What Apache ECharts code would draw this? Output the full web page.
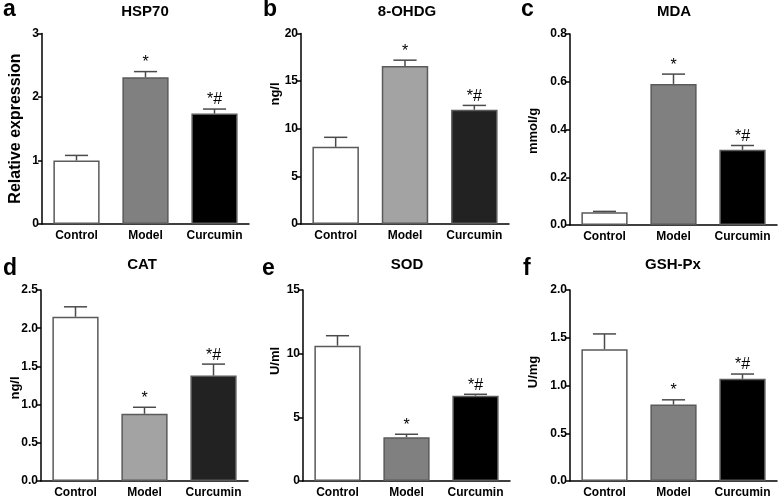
<!DOCTYPE html>
<html>
<head>
<meta charset="utf-8">
<script src="https://cdn.jsdelivr.net/npm/echarts@6/dist/echarts.min.js"></script>
<style>html,body{margin:0;padding:0;background:#fff}#c{width:778px;height:499px}</style>
</head>
<body>
<div id="c"></div>
<script>
var categories = ['Control', 'Model', 'Curcumin'];
var marks = ['', '*', '*#'];

var hsp70 = [1.00, 2.31, 1.74];
var hsp70Err = [0.08, 0.09, 0.07];
var ohdg = [8.1, 16.6, 12.0];
var ohdgErr = [1.0, 0.6, 0.45];
var mda = [0.053, 0.591, 0.315];
var mdaErr = [0.004, 0.041, 0.018];
var cat = [2.15, 0.88, 1.38];
var catErr = [0.13, 0.085, 0.15];
var sod = [10.63, 3.43, 6.70];
var sodErr = [0.78, 0.24, 0.11];
var gsh = [1.38, 0.80, 1.07];
var gshErr = [0.16, 0.05, 0.05];

var titles = ['HSP70', '8-OHDG', 'MDA', 'CAT', 'SOD', 'GSH-Px'];
var letters = ['a', 'b', 'c', 'd', 'e', 'f'];
var yNames = ['Relative expression', 'ng/l', 'mmol/g', 'ng/l', 'U/ml', 'U/mg'];
var yMax = [3, 20, 0.8, 2.5, 15, 2.0];
var yInterval = [1, 5, 0.2, 0.5, 5, 0.5];
var yDecimals = [0, 0, 1, 1, 0, 1];

var values = [hsp70, ohdg, mda, cat, sod, gsh];
var errors = [hsp70Err, ohdgErr, mdaErr, catErr, sodErr, gshErr];
var fills = [
  ['#ffffff', '#808080', '#000000'],
  ['#ffffff', '#a3a3a3', '#222222'],
  ['#ffffff', '#808080', '#000000'],
  ['#ffffff', '#a3a3a3', '#222222'],
  ['#ffffff', '#808080', '#000000'],
  ['#ffffff', '#808080', '#000000']
];

var grids = [
  {left: 42, top: 33.5, width: 207, height: 190.5},
  {left: 301, top: 33.5, width: 208, height: 190.5},
  {left: 570, top: 34, width: 207, height: 191},
  {left: 41, top: 290, width: 207, height: 191},
  {left: 303, top: 290, width: 207, height: 191},
  {left: 570, top: 290, width: 207, height: 191}
];
var titlePos = [[145, 11.5], [407, 11.5], [674, 11.5], [142, 264.7], [407, 264.7], [673, 264.7]];
var letterPos = [[3, 9.5], [263, 9.5], [521, 9.5], [3, 269], [262, 269], [523, 269]];
var yNamePos = [[16, 128.5], [275, 94], [533, 131], [15, 388], [275, 361], [533, 372]];
var yNameSize = [16, 13, 13, 13, 13, 13];

var FONT = '"Liberation Sans", Arial, Helvetica, sans-serif';

var xAxes = [], yAxes = [], series = [], graphics = [];
for (var k = 0; k < 6; k++) {
  (function (k) {
    xAxes.push({
      type: 'category', gridIndex: k, data: categories,
      axisLine: {lineStyle: {color: '#000', width: 1.5}},
      axisTick: {alignWithLabel: true, length: 5, lineStyle: {color: '#000', width: 1.5}},
      axisLabel: {interval: 0, color: '#000', fontWeight: 'bold', fontSize: 12, fontFamily: FONT, margin: 6}
    });
    yAxes.push({
      type: 'value', gridIndex: k, min: 0, max: yMax[k], interval: yInterval[k],
      splitLine: {show: false},
      axisLine: {show: true, lineStyle: {color: '#000', width: 1.5}},
      axisTick: {show: true, length: 4, lineStyle: {color: '#000', width: 1.5}},
      axisLabel: {color: '#000', fontWeight: 'bold', fontSize: 12, fontFamily: FONT, margin: 3,
        formatter: function (v) { return v.toFixed(yDecimals[k]); }}
    });
    series.push({
      type: 'bar', xAxisIndex: k, yAxisIndex: k, barCategoryGap: '33%',
      data: values[k].map(function (v, i) {
        return {value: v, itemStyle: {color: fills[k][i], borderColor: '#5a5a5a', borderWidth: 1.5}};
      }),
      silent: true, animation: false
    });
    series.push({
      type: 'custom', xAxisIndex: k, yAxisIndex: k, z: 5, silent: true, animation: false,
      data: values[k].map(function (v, i) { return [i, v, errors[k][i]]; }),
      renderItem: function (params, api) {
        var i = api.value(0), v = api.value(1), e = api.value(2);
        var p0 = api.coord([i, v]);
        var p1 = api.coord([i, v + e]);
        var bw = api.size([1, 0])[0] * 0.67;
        var half = bw / 4;
        var children = [
          {type: 'line', shape: {x1: p0[0], y1: p0[1], x2: p1[0], y2: p1[1]}, style: {stroke: '#4a4a4a', lineWidth: 1.5}},
          {type: 'line', shape: {x1: p1[0] - half, y1: p1[1], x2: p1[0] + half, y2: p1[1]}, style: {stroke: '#4a4a4a', lineWidth: 1.5}}
        ];
        var m = marks[params.dataIndex];
        if (m) {
          children.push({type: 'text', x: p1[0], y: p1[1] - 9,
            style: {text: m, fill: '#000', font: '16px ' + FONT, textAlign: 'center', textVerticalAlign: 'middle'}});
        }
        return {type: 'group', children: children};
      }
    });
    graphics.push({type: 'text', x: titlePos[k][0], y: titlePos[k][1],
      style: {text: titles[k], fill: '#000', font: 'bold 15px ' + FONT, textAlign: 'center', textVerticalAlign: 'middle'}});
    graphics.push({type: 'text', x: letterPos[k][0], y: letterPos[k][1],
      style: {text: letters[k], fill: '#000', font: 'bold 23px ' + FONT, textAlign: 'left', textVerticalAlign: 'middle'}});
    graphics.push({type: 'text', x: yNamePos[k][0], y: yNamePos[k][1], rotation: Math.PI / 2,
      style: {text: yNames[k], fill: '#000', font: 'bold ' + yNameSize[k] + 'px ' + FONT, textAlign: 'center', textVerticalAlign: 'middle'}});
  })(k);
}

var chart = echarts.init(document.getElementById('c'), null, {renderer: 'canvas'});
chart.setOption({
  backgroundColor: '#fff',
  animation: false,
  grid: grids,
  xAxis: xAxes,
  yAxis: yAxes,
  series: series,
  graphic: graphics
});
</script>
</body>
</html>
